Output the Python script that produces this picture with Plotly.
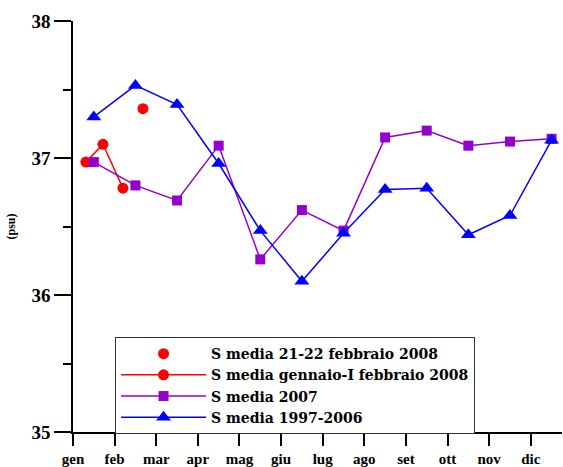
import plotly.graph_objects as go

months = ["gen", "feb", "mar", "apr", "mag", "giu", "lug", "ago", "set", "ott", "nov", "dic"]
month_x = [0.5, 1.5, 2.5, 3.5, 4.5, 5.5, 6.5, 7.5, 8.5, 9.5, 10.5, 11.5]

s_1997_2006 = [37.30, 37.53, 37.39, 36.96, 36.47, 36.10, 36.45, 36.77, 36.78, 36.44, 36.58, 37.13]
s_2007 = [36.97, 36.80, 36.69, 37.09, 36.26, 36.62, 36.47, 37.15, 37.20, 37.09, 37.12, 37.14]

gen_feb_x = [0.31, 0.72, 1.20]
gen_feb_s = [36.97, 37.10, 36.78]

feb21_x = [1.68]
feb21_s = [37.36]

font_fam = "Liberation Serif, Times New Roman, serif"
legend_fam = "DejaVu Serif, Liberation Serif, serif"

fig = go.Figure()
fig.add_trace(go.Scatter(x=feb21_x, y=feb21_s, mode="markers",
                         name="<b>S media 21-22 febbraio 2008</b>",
                         marker=dict(symbol="circle", size=11, color="#FF0000")))
fig.add_trace(go.Scatter(x=gen_feb_x, y=gen_feb_s, mode="lines+markers",
                         name="<b>S media gennaio-I febbraio 2008</b>",
                         line=dict(color="#FF0000", width=1.5),
                         marker=dict(symbol="circle", size=11, color="#FF0000")))
fig.add_trace(go.Scatter(x=month_x, y=s_2007, mode="lines+markers",
                         name="<b>S media 2007</b>",
                         line=dict(color="#9400CC", width=1.5),
                         marker=dict(symbol="square", size=10, color="#9400CC")))
fig.add_trace(go.Scatter(x=month_x, y=s_1997_2006, mode="lines+markers",
                         name="<b>S media 1997-2006</b>",
                         line=dict(color="#0000FF", width=1.5),
                         marker=dict(symbol="triangle-up", size=13, color="#0000FF")))

fig.update_layout(
    width=563, height=467,
    margin=dict(l=73, r=1, t=21, b=35, autoexpand=False),
    paper_bgcolor="white", plot_bgcolor="white",
    font=dict(family=font_fam, color="black"),
    showlegend=True,
    legend=dict(x=0.086, y=0.231, xanchor="left", yanchor="top",
                bordercolor="#333333", borderwidth=1, bgcolor="white",
                font=dict(family=legend_fam, size=14, color="black"),
                itemwidth=85, tracegroupgap=0),
    xaxis=dict(range=[0, 11.75], tickmode="array", tickvals=list(range(12)),
               ticktext=["<b>%s</b>" % m for m in months],
               ticks="outside", ticklen=12, tickwidth=1.5, tickcolor="black",
               showline=True, linecolor="black", linewidth=1.5,
               showgrid=False, zeroline=False, automargin=False,
               tickfont=dict(family=font_fam, size=15, color="black")),
    yaxis=dict(range=[35, 38], tickmode="array", tickvals=[35, 36, 37, 38],
               ticktext=["<b>35</b>", "<b>36</b>", "<b>37</b>", "<b>38</b>"],
               ticks="outside", ticklen=17, tickwidth=1.5, tickcolor="black",
               showline=True, linecolor="black", linewidth=1.5,
               showgrid=False, zeroline=False, automargin=False,
               minor=dict(dtick=0.5, tick0=35, ticks="outside", ticklen=8,
                          tickwidth=1.5, tickcolor="black", showgrid=False),
               tickfont=dict(family=font_fam, size=19, color="black"),
               title=dict(text="<b>(psu)</b>", font=dict(family=font_fam, size=12, color="black"),
                          standoff=13)),
)

fig.write_html("out.html", config={"displayModeBar": False},
               post_script="document.body.style.margin='0';")
